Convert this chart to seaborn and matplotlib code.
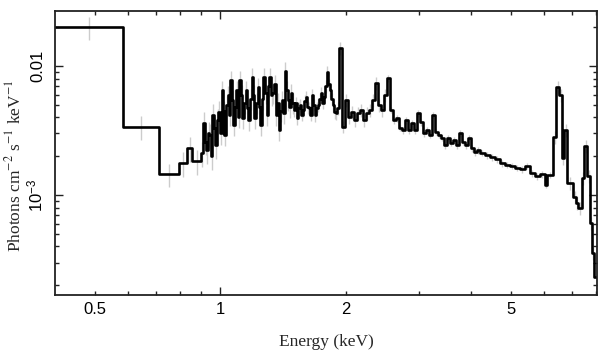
import numpy as np
import pandas as pd
import matplotlib
matplotlib.use("Agg")
import matplotlib.pyplot as plt
import matplotlib.ticker as ticker
import seaborn as sns

# bin edges (keV) and flux (photons cm^-2 s^-1 keV^-1)
edges = [0.4, 0.584, 0.713, 0.796, 0.833, 0.856, 0.900, 0.910,
         0.917, 0.925, 0.933, 0.941, 0.949, 0.957, 0.965, 0.973, 0.981, 0.989,
         0.997, 1.006, 1.014, 1.022, 1.031, 1.040, 1.048, 1.057, 1.066, 1.075,
         1.084, 1.093, 1.102, 1.111, 1.120, 1.130, 1.139, 1.149, 1.158, 1.168,
         1.178, 1.188, 1.197, 1.207, 1.217, 1.228, 1.238, 1.248, 1.258, 1.269,
         1.280, 1.291, 1.301, 1.312, 1.323, 1.334, 1.345, 1.357, 1.368, 1.380,
         1.391, 1.403, 1.415, 1.427, 1.438, 1.450, 1.462, 1.475, 1.487, 1.500,
         1.512, 1.525, 1.537, 1.550, 1.563, 1.576, 1.589, 1.603, 1.616, 1.629,
         1.643, 1.657, 1.671, 1.685, 1.699, 1.713, 1.727, 1.742, 1.756, 1.771,
         1.785, 1.800, 1.815, 1.831, 1.846, 1.862, 1.877, 1.893, 1.908, 1.924,
         1.957, 1.990, 2.023, 2.057, 2.092, 2.127, 2.162,
         2.199, 2.236, 2.273, 2.311, 2.350, 2.389, 2.429, 2.470, 2.512, 2.554,
         2.597, 2.640, 2.685, 2.730, 2.776, 2.822, 2.870, 2.918, 2.967, 3.017,
         3.067, 3.119, 3.171, 3.224, 3.279, 3.334, 3.389, 3.446, 3.504, 3.563,
         3.622, 3.683, 3.745, 3.808, 3.873, 3.937, 4.004, 4.070, 4.139, 4.208,
         4.326, 4.448, 4.574, 4.702, 4.834, 4.971, 5.110, 5.254, 5.402, 5.554,
         5.710, 5.870, 6.035, 6.102, 6.310, 6.415, 6.523, 6.632, 6.706, 6.818,
         7.050, 7.168, 7.248, 7.410, 7.493, 7.618, 7.747, 7.834, 7.921, 8.3]

flux = [0.0200, 0.00339, 0.00145, 0.00177, 0.00231, 0.00184, 0.00212,
        0.00361, 0.00260, 0.00223, 0.00300, 0.00292, 0.00200, 0.00417, 0.00330,
        0.00244, 0.00380, 0.00440, 0.00300, 0.00652, 0.00450, 0.00292, 0.00500,
        0.00596, 0.00420, 0.00779, 0.00550, 0.00349, 0.00480, 0.00652, 0.00400,
        0.00779, 0.00600, 0.00395, 0.00520, 0.00652, 0.00470, 0.00381, 0.00560,
        0.00822, 0.00600, 0.00395, 0.00520, 0.00687, 0.00480, 0.00349, 0.00560,
        0.00822, 0.00620, 0.00417, 0.00700, 0.00822, 0.00600, 0.00618, 0.00720,
        0.00417, 0.00520, 0.00319, 0.00450, 0.00545, 0.00430, 0.00915, 0.00650,
        0.00545, 0.00480, 0.00618, 0.00520,
        0.00456, 0.00520, 0.00395, 0.00470, 0.00498, 0.00420, 0.00456, 0.00540,
        0.00575, 0.00480, 0.00472, 0.00420, 0.00596, 0.00500, 0.00417, 0.00470,
        0.00498, 0.00560, 0.00618, 0.00520, 0.00575, 0.00700, 0.00899, 0.00720,
        0.00652, 0.00560, 0.00498, 0.00440, 0.00432, 0.00470,
        0.01379, 0.00337,
        0.00545, 0.00402, 0.00440, 0.00381, 0.00432, 0.00456, 0.00381, 0.00432, 0.00456,
        0.00545, 0.00738, 0.00498, 0.00456, 0.00596, 0.00807, 0.00456, 0.00381, 0.00395,
        0.00331, 0.00319, 0.00381, 0.00319, 0.00361, 0.00319, 0.00432, 0.00368, 0.00302,
        0.00319, 0.00292, 0.00417, 0.00308, 0.00292, 0.00277, 0.00244, 0.00277, 0.00253,
        0.00267, 0.00244, 0.00302, 0.00258, 0.00244, 0.00277, 0.00231, 0.00215, 0.00223,
        0.00212, 0.00204, 0.00197, 0.00190, 0.00177, 0.00171, 0.00168, 0.00162, 0.00159,
        0.00168, 0.00148, 0.00140, 0.00145, 0.00120, 0.00143, 0.00282, 0.00687, 0.00596,
        0.00194, 0.00319, 0.00124, 0.000965, 0.000867, 0.000793, 0.00135, 0.00240, 0.00140,
        0.000607, 0.000355, 0.000231]

# fractional 1-sigma errors, by energy range
err_upper_keV = [0.8, 1.0, 1.5, 2.5, 6.3, 8.3]
err_fraction = [0.21, 0.22, 0.18, 0.11, 0.06, 0.12]

sns.set_style("ticks")
plt.rcParams["font.family"] = ["Liberation Sans", "DejaVu Sans"]
plt.rcParams["mathtext.fontset"] = "custom"
plt.rcParams["mathtext.rm"] = "Liberation Sans"
plt.rcParams["mathtext.it"] = "Liberation Sans:italic"

edges = np.array(edges)
flux = np.array(flux)
centers = np.sqrt(edges[:-1] * edges[1:])
err = flux * np.array(err_fraction)[np.searchsorted(err_upper_keV, centers)]

spec = pd.DataFrame({"energy": edges, "flux": np.append(flux, flux[-1])})

fig = plt.figure(figsize=(6.09, 3.57), dpi=100)
ax = fig.add_axes([0.0903, 0.1737, 0.8900, 0.7955])

ax.vlines(centers, flux - err, flux + err, color="#cccccc", lw=1, zorder=1)
sns.lineplot(data=spec, x="energy", y="flux", drawstyle="steps-post",
             color="black", lw=1.9, estimator=None, ax=ax, zorder=2)

ax.set_xscale("log")
ax.set_yscale("log")
ax.set_xlim(0.4, 8.05)
ax.set_ylim(1.68e-4, 0.0267)

ax.xaxis.set_major_locator(ticker.FixedLocator([1]))
ax.xaxis.set_major_formatter(ticker.FixedFormatter(["1"]))
ax.xaxis.set_minor_locator(ticker.FixedLocator([0.5, 0.6, 0.7, 0.8, 0.9, 2, 3, 4, 5, 6, 7, 8]))
xlab = {0.5: "0.5", 2.0: "2", 5.0: "5"}
ax.xaxis.set_minor_formatter(ticker.FuncFormatter(lambda v, p: xlab.get(round(v, 1), "")))

ax.yaxis.set_major_locator(ticker.FixedLocator([1e-3, 1e-2]))
ax.yaxis.set_major_formatter(ticker.FixedFormatter([r"$10^{-3}$", "0.01"]))
ax.yaxis.set_minor_locator(ticker.FixedLocator(
    [k * 1e-4 for k in range(2, 10)] + [k * 1e-3 for k in range(2, 10)] + [0.02]))
ax.yaxis.set_minor_formatter(ticker.NullFormatter())

ax.tick_params(which="both", direction="in", top=True, right=True, width=1,
               color="#222222", labelsize=12, labelcolor="black")
ax.tick_params(which="major", length=6)
ax.tick_params(which="minor", length=3)
ax.tick_params(axis="x", which="both", pad=5)
ax.tick_params(axis="y", which="both", pad=7, labelrotation=90)
for lab in ax.get_yticklabels():
    lab.set_va("center")

for s in ax.spines.values():
    s.set_linewidth(1.3)
    s.set_color("#222222")

ax.set_xlabel("Energy (keV)", fontsize=12.5, family="Liberation Serif", labelpad=12)
ax.set_ylabel(r"Photons cm$^{-2}$ s$^{-1}$ keV$^{-1}$", fontsize=12.5,
              family="Liberation Serif", math_fontfamily="stix")
ax.yaxis.set_label_coords(-0.057, 0.454)

fig.savefig("out.png", dpi=100)
